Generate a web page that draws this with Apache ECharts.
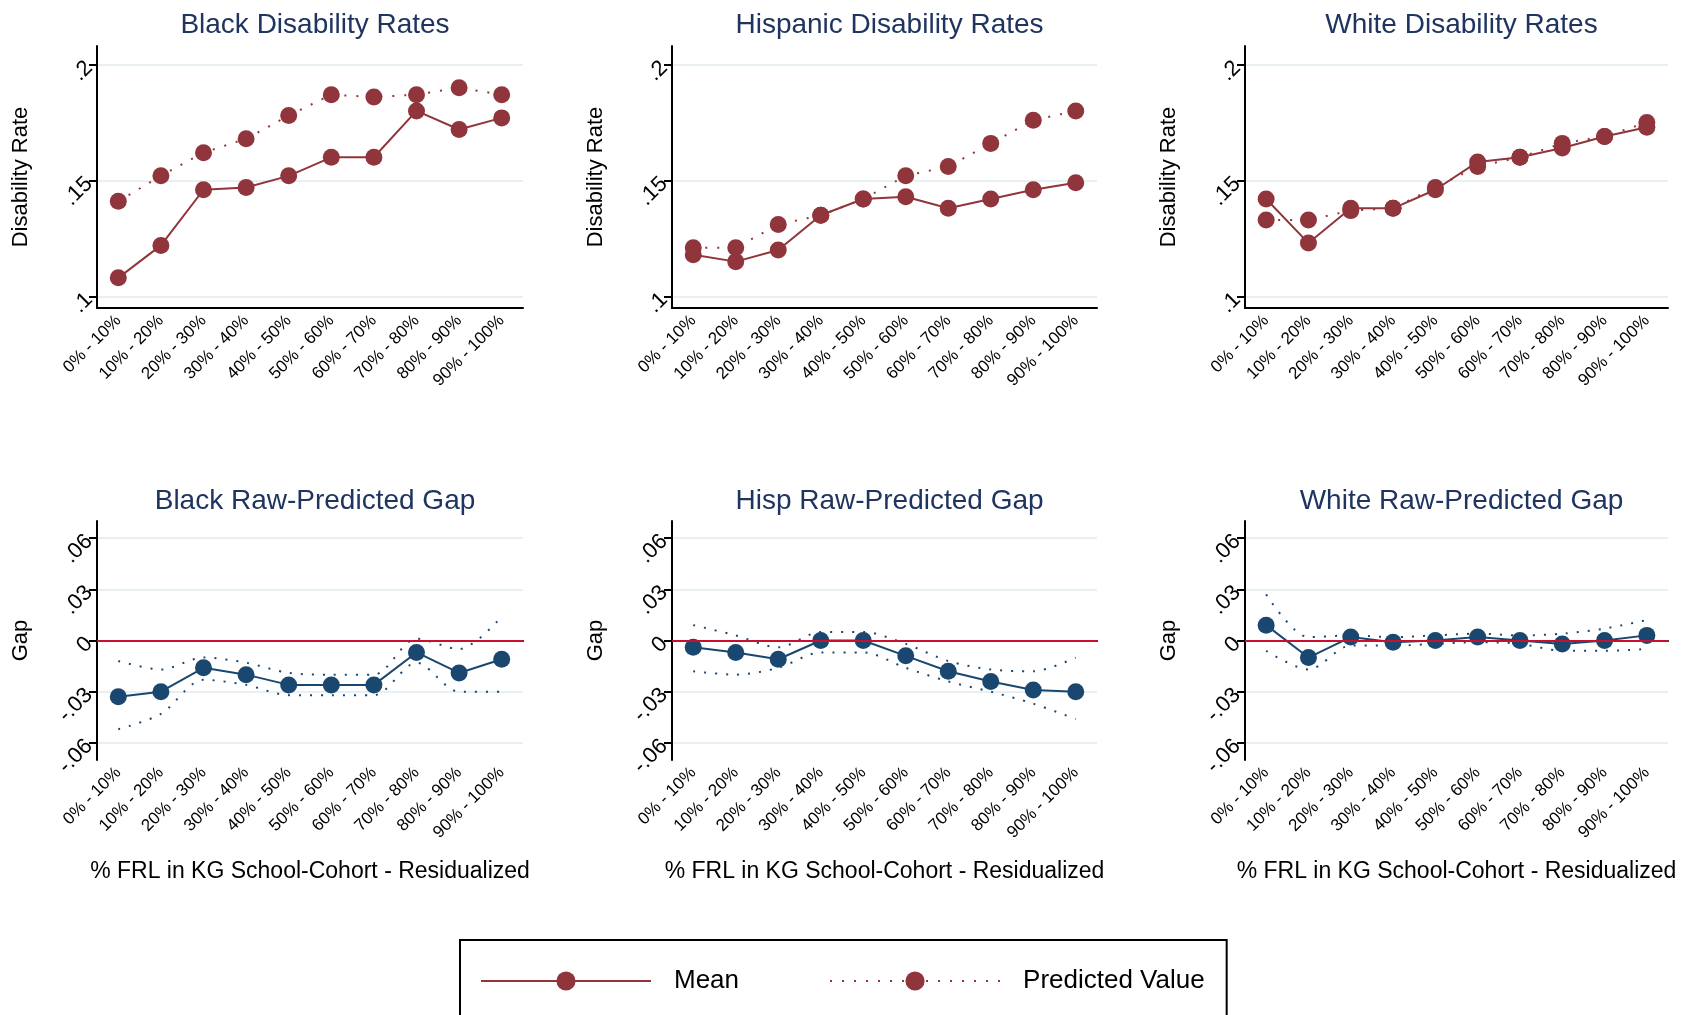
<!DOCTYPE html>
<html>
<head>
<meta charset="utf-8">
<script src="https://cdn.jsdelivr.net/npm/echarts@6/dist/echarts.min.js"></script>
<style>
  html, body { margin: 0; padding: 0; background: #fff; }
  #chart { width: 1701px; height: 1015px; }
</style>
</head>
<body>
<div id="chart"></div>
<script>
const categories = ['0% - 10%', '10% - 20%', '20% - 30%', '30% - 40%', '40% - 50%',
    '50% - 60%', '60% - 70%', '70% - 80%', '80% - 90%', '90% - 100%'];

// disability rates
const blackMean = [.108, .122, .146, .147, .152, .160, .160, .180, .172, .177];
const blackPred = [.141, .152, .162, .168, .178, .187, .186, .187, .190, .187];
const hispMean = [.118, .115, .120, .135, .142, .143, .138, .142, .146, .149];
const hispPred = [.121, .121, .131, .135, .142, .152, .156, .166, .176, .180];
const whiteMean = [.142, .123, .138, .138, .146, .158, .160, .164, .169, .173];
const whitePred = [.133, .133, .137, .138, .147, .156, .160, .166, .169, .175];

// raw - predicted gaps with bands
const blackGap = [-.033, -.030, -.016, -.020, -.026, -.026, -.026, -.007, -.019, -.011];
const blackHi = [-.012, -.017, -.010, -.013, -.019, -.020, -.020, .001, -.005, .014];
const blackLo = [-.052, -.043, -.023, -.026, -.032, -.032, -.032, -.013, -.030, -.030];
const hispGap = [-.004, -.007, -.011, .000, .000, -.009, -.018, -.024, -.029, -.030];
const hispHi = [.009, .003, -.004, .005, .005, -.002, -.012, -.017, -.018, -.010];
const hispLo = [-.018, -.020, -.016, -.007, -.007, -.016, -.024, -.030, -.037, -.046];
const whiteGap = [.009, -.010, .002, -.001, .000, .002, .000, -.002, .000, .003];
const whiteHi = [.027, .002, .003, .002, .003, .004, .003, .004, .007, .012];
const whiteLo = [-.006, -.017, -.003, -.003, -.002, -.001, -.002, -.006, -.006, -.005];

const topTitles = ['Black Disability Rates', 'Hispanic Disability Rates', 'White Disability Rates'];
const botTitles = ['Black Raw-Predicted Gap', 'Hisp Raw-Predicted Gap', 'White Raw-Predicted Gap'];
const rateLabels = { '0.1': '.1', '0.15': '.15', '0.2': '.2' };
const gapLabels = { '-0.06': '-.06', '-0.03': '-.03', '0': '0', '0.03': '.03', '0.06': '.06' };

const MAROON = '#90353b';
const NAVY = '#1a476f';
const TITLE = '#1f3560';

const cols = [{ left: 97, width: 426 }, { left: 672, width: 425 }, { left: 1245, width: 423 }];
const topMeans = [blackMean, hispMean, whiteMean];
const topPreds = [blackPred, hispPred, whitePred];
const gaps = [blackGap, hispGap, whiteGap];
const his = [blackHi, hispHi, whiteHi];
const los = [blackLo, hispLo, whiteLo];

const grids = [], xAxes = [], yAxes = [], series = [], titles = [];
const titleStyle = { color: TITLE, fontSize: 28, fontWeight: 'normal', fontFamily: 'Liberation Sans' };

cols.forEach((c, i) => {
    grids.push({ left: c.left, width: c.width, top: 46, height: 262 });
    grids.push({ left: c.left, width: c.width, top: 521, height: 239 });
    titles.push({ text: topTitles[i], left: c.left + c.width / 2, top: 6, textAlign: 'center', textStyle: titleStyle });
    titles.push({ text: botTitles[i], left: c.left + c.width / 2, top: 482, textAlign: 'center', textStyle: titleStyle });
});

const axisFont = { fontFamily: 'Liberation Sans', color: '#000', fontSize: 17 };

for (let g = 0; g < 6; g++) {
    const top = g % 2 === 0;
    const ticks = top ? [0.1, 0.15, 0.2] : [-0.06, -0.03, 0, 0.03, 0.06];
    xAxes.push({
        gridIndex: g, type: 'category', data: categories, boundaryGap: true,
        axisLine: { lineStyle: { color: '#000', width: 2 } },
        axisTick: { alignWithLabel: true, length: 8, lineStyle: { color: '#000', width: 2 } },
        axisLabel: { ...axisFont, rotate: 45, interval: 0, margin: 10 },
        name: top ? '' : '% FRL in KG School-Cohort - Residualized',
        nameLocation: 'middle', nameGap: 100,
        nameTextStyle: { fontFamily: 'Liberation Sans', fontSize: 23, color: '#000' }
    });
    yAxes.push({
        gridIndex: g, type: 'value',
        min: top ? 0.095 : -0.07, max: top ? 0.208 : 0.07, interval: top ? 0.05 : 0.03,
        axisLine: { show: true, lineStyle: { color: '#000', width: 2 } },
        axisLabel: {
            ...axisFont, fontSize: 22, rotate: 45, customValues: ticks,
            formatter: v => (top ? rateLabels : gapLabels)[String(Math.round(v * 100) / 100)] || ''
        },
        axisTick: { show: true, length: 8, lineStyle: { color: '#000', width: 2 }, customValues: ticks },
        splitLine: { show: true, lineStyle: { color: '#e8f0f2', width: 2 } },
        name: top ? 'Disability Rate' : 'Gap', nameLocation: 'middle', nameGap: 65,
        nameTextStyle: { fontFamily: 'Liberation Sans', fontSize: 22, color: '#000' }
    });
}

for (let i = 0; i < 3; i++) {
    const gt = i * 2, gb = i * 2 + 1;
    series.push({
        name: 'Predicted Value', type: 'line', xAxisIndex: gt, yAxisIndex: gt, data: topPreds[i],
        symbol: 'circle', symbolSize: 17, itemStyle: { color: MAROON },
        lineStyle: { color: MAROON, width: 2, type: [2, 10] }, z: 2
    });
    series.push({
        name: 'Mean', type: 'line', xAxisIndex: gt, yAxisIndex: gt, data: topMeans[i],
        symbol: 'circle', symbolSize: 17, itemStyle: { color: MAROON },
        lineStyle: { color: MAROON, width: 2 }, z: 3
    });
    series.push({
        name: 'Upper ' + i, type: 'line', xAxisIndex: gb, yAxisIndex: gb, data: his[i],
        symbol: 'none', smooth: 0.3, lineStyle: { color: NAVY, width: 2, type: [2, 9] },
        markLine: {
            silent: true, symbol: 'none', label: { show: false },
            lineStyle: { color: '#c8102e', width: 2, type: 'solid' }, data: [{ yAxis: 0 }]
        }
    });
    series.push({
        name: 'Lower ' + i, type: 'line', xAxisIndex: gb, yAxisIndex: gb, data: los[i],
        symbol: 'none', smooth: 0.3, lineStyle: { color: NAVY, width: 2, type: [2, 9] }
    });
    series.push({
        name: 'Gap ' + i, type: 'line', xAxisIndex: gb, yAxisIndex: gb, data: gaps[i],
        symbol: 'circle', symbolSize: 17, itemStyle: { color: NAVY },
        lineStyle: { color: NAVY, width: 2 }, z: 4
    });
}

const chart = echarts.init(document.getElementById('chart'));
chart.setOption({
    animation: false,
    title: titles,
    grid: grids,
    xAxis: xAxes,
    yAxis: yAxes,
    series: series,
    legend: {
        data: ['Mean', 'Predicted Value'],
        left: 460, top: 940,
        padding: [28, 22, 40, 20],
        borderColor: '#000', borderWidth: 2,
        itemWidth: 170, itemHeight: 24, itemGap: 90,
        textStyle: { fontFamily: 'Liberation Sans', fontSize: 26, color: '#000', padding: [0, 0, 0, 18] }
    }
});
window.addEventListener('resize', () => { chart.resize(); });
</script>
</body>
</html>
